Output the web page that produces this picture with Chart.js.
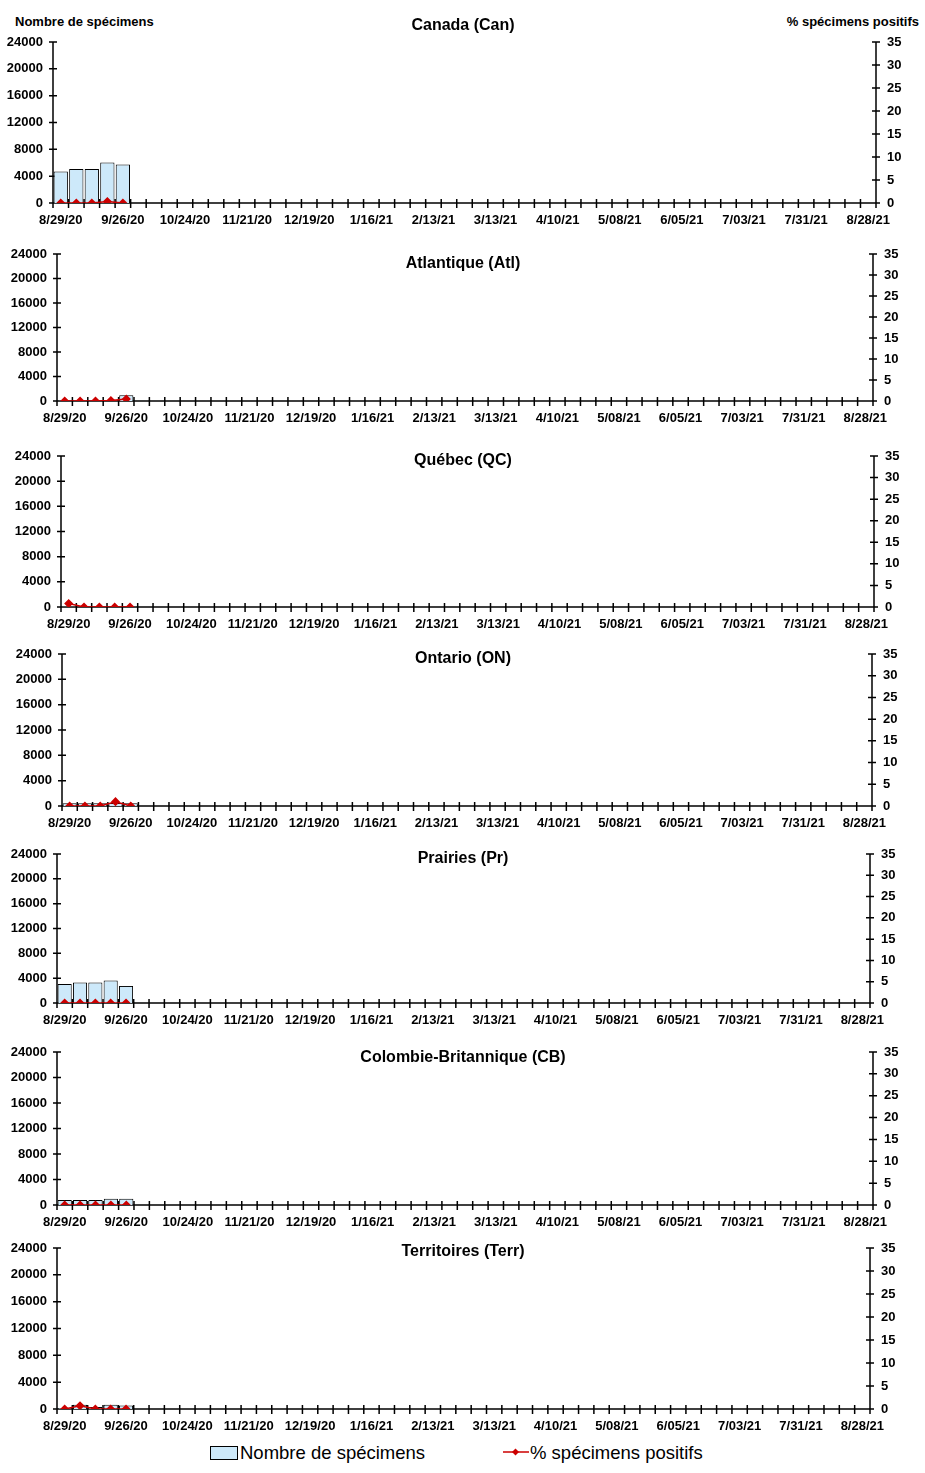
<!DOCTYPE html>
<html>
<head>
<meta charset="utf-8">
<script src="https://cdn.jsdelivr.net/npm/chart.js@4"></script>
<style>
  body{margin:0;background:#fff;font-family:"Liberation Sans",Arial,sans-serif;}
  #page{position:relative;width:925px;height:1473px;overflow:hidden;}
  .panel{position:absolute;left:0;}
  .ttl{position:absolute;left:0;width:926px;text-align:center;font-weight:bold;font-size:16px;line-height:18px;}
  .axt{position:absolute;top:14px;font-weight:bold;font-size:13px;line-height:16px;}
  .leg{position:absolute;top:1442px;font-size:18.5px;line-height:22px;white-space:nowrap;}
  .box{display:inline-block;width:26px;height:12px;border:1px solid #000;background:#CDE9FA;vertical-align:-1px;margin-right:2px;}
</style>
</head>
<body>
<div id="page">
  <div class="axt" style="left:15px">Nombre de spécimens</div>
  <div class="axt" style="right:6px">% spécimens positifs</div>
  <div class="leg" style="left:210px"><span class="box"></span>Nombre de spécimens</div>
  <div class="leg" style="left:503px"><svg width="27" height="14" style="vertical-align:0px"><line x1="0" y1="7" x2="26" y2="7" stroke="#CC0000" stroke-width="1.5"/><path d="M12.5 3.5 L16 7 L12.5 10.5 L9 7 Z" fill="#CC0000"/></svg>% spécimens positifs</div>
</div>
<script>
// weeks (M/DD/YY)
const weeks=["8/29/20","9/05/20","9/12/20","9/19/20","9/26/20","10/03/20","10/10/20","10/17/20","10/24/20","10/31/20",
  "11/07/20","11/14/20","11/21/20","11/28/20","12/05/20","12/12/20","12/19/20","12/26/20","1/02/21","1/09/21",
  "1/16/21","1/23/21","1/30/21","2/06/21","2/13/21","2/20/21","2/27/21","3/06/21","3/13/21","3/20/21",
  "3/27/21","4/03/21","4/10/21","4/17/21","4/24/21","5/01/21","5/08/21","5/15/21","5/22/21","5/29/21",
  "6/05/21","6/12/21","6/19/21","6/26/21","7/03/21","7/10/21","7/17/21","7/24/21","7/31/21","8/07/21",
  "8/14/21","8/21/21","8/28/21"];

const regions=["Canada (Can)","Atlantique (Atl)","Québec (QC)","Ontario (ON)","Prairies (Pr)","Colombie-Britannique (CB)","Territoires (Terr)"];

// Nombre de spécimens
const canSpec=[4700,5050,5050,6050,5750];
const atlSpec=[80,80,80,120,930];
const qcSpec=[40,40,40,40,40];
const onSpec=[450,420,420,480,450];
const prSpec=[3070,3290,3290,3620,2750];
const cbSpec=[790,790,790,1000,1000];
const terrSpec=[150,640,300,640,540];

// % spécimens positifs
const canPos=[0,0,0,0.3,0];
const atlPos=[0,0,0,0.1,0.45];
const qcPos=[0.8,0,0,0,0];
const onPos=[0,0,0,1.0,0];
const prPos=[0,0,0,0,0];
const cbPos=[0,0,0,0,0];
const terrPos=[0,0.7,0,0,0];

const specTicks=[0,4000,8000,12000,16000,20000,24000];
const posTicks=[0,5,10,15,20,25,30,35];

const specSeries=[canSpec,atlSpec,qcSpec,onSpec,prSpec,cbSpec,terrSpec];
const posSeries=[canPos,atlPos,qcPos,onPos,prPos,cbPos,terrPos];

// layout: plot box [left,right,top,bottom] and title y
const boxes=[[53,876,42,203],[57,873,254,401],[61,874,456,607],[62,872,654,806],[57,870,854,1003],[57,873,1052,1205],[57,870,1248,1409]];
const titleY=[16,254,451,649,849,1048,1242];

Chart.defaults.font.family='"Liberation Sans", Arial, sans-serif';
Chart.defaults.font.size=13;
Chart.defaults.font.weight='bold';
Chart.defaults.color='#000';

const axisLines={
  id:'axisLines',
  beforeDatasetsDraw(chart){
    const {ctx,chartArea:a,scales}=chart;
    ctx.save();
    ctx.strokeStyle='#000';ctx.lineWidth=1.5;
    ctx.beginPath();
    ctx.moveTo(a.left,a.top);ctx.lineTo(a.left,a.bottom);ctx.lineTo(a.right,a.bottom);ctx.lineTo(a.right,a.top);
    scales.y.ticks.forEach((t,i)=>{const p=scales.y.getPixelForTick(i);ctx.moveTo(a.left-4,p);ctx.lineTo(a.left+4,p);});
    scales.y2.ticks.forEach((t,i)=>{const p=scales.y2.getPixelForTick(i);ctx.moveTo(a.right-4,p);ctx.lineTo(a.right+4,p);});
    const n=weeks.length,w=(a.right-a.left)/n;
    for(let i=0;i<=n;i++){const p=a.left+i*w;ctx.moveTo(p,a.bottom-4);ctx.lineTo(p,a.bottom+5);}
    ctx.stroke();
    ctx.restore();
  }
};

const page=document.getElementById('page');
regions.forEach((name,k)=>{
  const [l,r,t,b]=boxes[k];
  const padTop=22,xH=30;
  const div=document.createElement('div');
  div.className='panel';
  div.style.top=(t-padTop)+'px';
  const cv=document.createElement('canvas');
  cv.width=925;cv.height=(b-t)+padTop+xH;
  cv.style.width='925px';cv.style.height=cv.height+'px';
  div.appendChild(cv);
  page.appendChild(div);

  const ttl=document.createElement('div');
  ttl.className='ttl';ttl.style.top=titleY[k]+'px';ttl.textContent=name;
  page.appendChild(ttl);

  new Chart(cv,{
    data:{
      labels:weeks,
      datasets:[
        {type:'line',data:posSeries[k],yAxisID:'y2',borderColor:'#CC0000',borderWidth:1.5,
         pointStyle:'rectRot',pointRadius:3.5,pointBackgroundColor:'#CC0000',pointBorderColor:'#CC0000',
         tension:0,order:0},
        {type:'bar',data:specSeries[k],yAxisID:'y',backgroundColor:'#CDE9FA',borderColor:'#000',borderWidth:1,
         barPercentage:0.92,categoryPercentage:1,order:1}
      ]
    },
    options:{
      responsive:false,animation:false,
      layout:{padding:{top:padTop,left:0,right:0,bottom:0}},
      plugins:{legend:{display:false},title:{display:false},tooltip:{enabled:false}},
      scales:{
        x:{offset:true,grid:{display:false,drawTicks:false},border:{display:false},
           ticks:{autoSkip:false,maxRotation:0,minRotation:0,padding:10,
             callback:(v,i)=>i%4===0?weeks[i]:''},
           afterFit:s=>{s.height=xH;}},
        y:{position:'left',min:0,max:24000,grid:{display:false,drawTicks:false},border:{display:false},
           afterBuildTicks:s=>{s.ticks=specTicks.map(v=>({value:v}));},
           ticks:{padding:10,callback:v=>String(v)},
           afterFit:s=>{s.width=l;}},
        y2:{position:'right',min:0,max:35,grid:{display:false,drawTicks:false},border:{display:false},
           afterBuildTicks:s=>{s.ticks=posTicks.map(v=>({value:v}));},
           ticks:{padding:11,callback:v=>String(v)},
           afterFit:s=>{s.width=925-r;}}
      }
    },
    plugins:[axisLines]
  });
});
</script>
</body>
</html>
